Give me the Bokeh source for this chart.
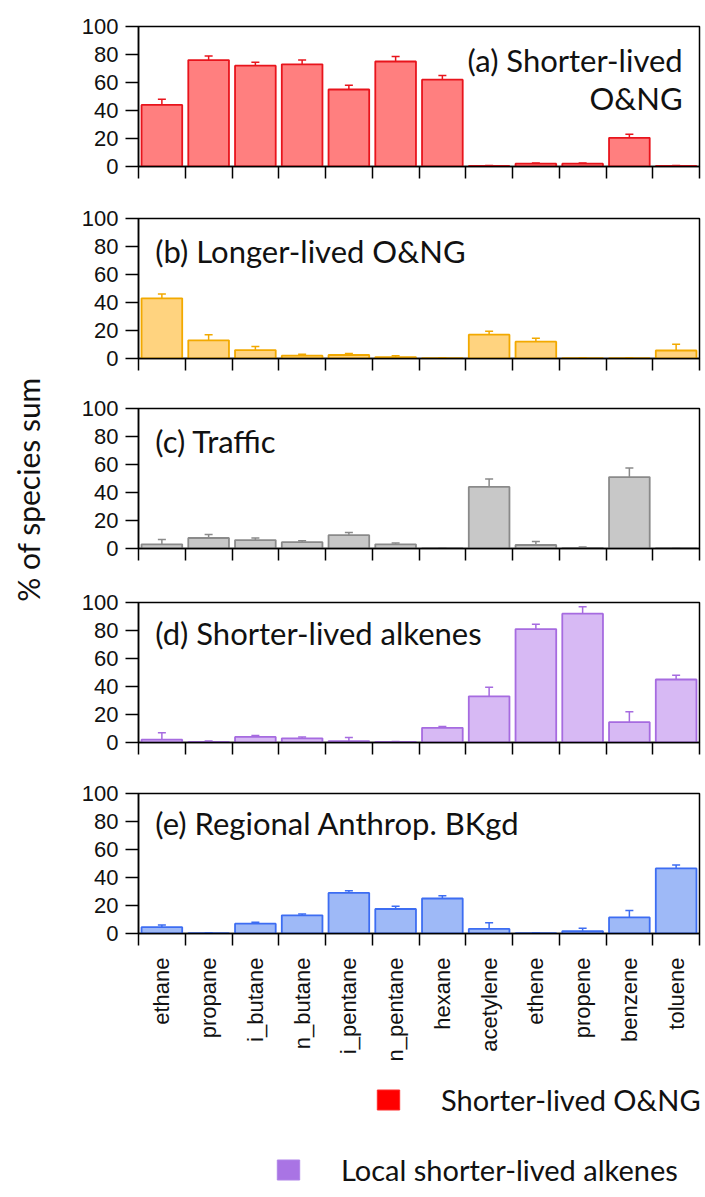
import numpy as np
from math import pi
from bokeh.plotting import figure
from bokeh.models import (Range1d, FixedTicker, ColumnDataSource, Whisker, TeeHead,
                          Label, Legend, LegendItem)
from bokeh.layouts import column, row
from bokeh.embed import file_html
from bokeh.resources import INLINE

# ---------------- data ----------------
species = ["ethane", "propane", "i_butane", "n_butane", "i_pentane", "n_pentane",
           "hexane", "acetylene", "ethene", "propene", "benzene", "toluene"]

a_vals = [44, 76, 72, 73, 55, 75, 62, 0.4, 2, 2, 20.5, 0.4]
a_err = [4, 3, 2.5, 3, 3, 3.5, 3, 0.3, 0.5, 0.5, 2.5, 0.3]

b_vals = [43, 13, 6, 2, 2.5, 1, 0.3, 17, 12, 0.3, 0.3, 5.7]
b_err = [3, 4, 2.5, 1, 1, 1, 0.3, 2.5, 2.5, 0.3, 0.3, 4.5]

c_vals = [3, 7.5, 6, 4.5, 9.5, 3, 0.3, 44, 2.5, 0.5, 51, 0.3]
c_err = [3.5, 2.5, 1.5, 1, 2, 1, 0.3, 5.7, 2.5, 0.5, 6.5, 0.3]

d_vals = [2, 0.5, 4, 3, 1, 0.5, 10.5, 33, 81, 92, 14.5, 45]
d_err = [5, 0.5, 1, 1, 2.5, 0.3, 1, 6.5, 3.5, 5, 7.5, 3]

e_vals = [4.5, 0.3, 7, 13, 29, 17.5, 25, 3.3, 0.3, 1.7, 11.5, 46.5]
e_err = [1.5, 0.3, 1, 1, 1.5, 2, 2, 4.3, 0.3, 2, 5, 2.5]

y_ticks = [0, 20, 40, 60, 80, 100]

y_label = "% of species sum"
legend_labels = ["Shorter-lived O&NG", "Local shorter-lived alkenes"]

# ---------------- style ----------------
TICK_FONT = "Liberation Sans"
TEXT_FONT = "Lato"
n = len(species)
centers = np.arange(n) + 0.5
bounds = list(range(n + 1))


def make_panel(vals, errs, fill, line, titles, top=18, bot=34, bottom=False):
    vals = np.asarray(vals, dtype=float)
    errs = np.asarray(errs, dtype=float)
    p = figure(frame_width=561, frame_height=140,
               x_range=Range1d(0, n), y_range=Range1d(0, 100),
               output_backend="svg", toolbar_location=None,
               min_border_left=88, min_border_right=6, min_border_top=top,
               min_border_bottom=bot)
    p.grid.visible = False
    p.outline_line_color = "black"
    p.outline_line_width = 1.5
    p.background_fill_color = "white"

    src = ColumnDataSource(dict(x=centers, top=vals, upper=vals + errs,
                                lower=np.clip(vals - errs, 0, None),
                                species=species))
    p.vbar(x="x", top="top", bottom=0, width=0.87, source=src,
           fill_color=fill, line_color=line, line_width=1.8)
    w = Whisker(base="x", upper="upper", lower="lower", source=src,
                line_color=line, line_width=1.5,
                upper_head=TeeHead(size=8, line_color=line, line_width=1.5),
                lower_head=TeeHead(size=8, line_color=line, line_width=1.5))
    p.add_layout(w)

    ya = p.yaxis[0]
    ya.ticker = FixedTicker(ticks=y_ticks)
    ya.major_tick_out = 13
    ya.major_tick_in = 0
    ya.minor_tick_out = 0
    ya.minor_tick_in = 0
    ya.major_label_standoff = 7
    ya.axis_line_width = 1.5
    ya.major_tick_line_width = 1.5
    ya.major_label_text_font = TICK_FONT
    ya.major_label_text_font_size = "22px"
    ya.major_label_text_color = "#111111"

    xa = p.xaxis[0]
    xa.ticker = FixedTicker(ticks=(list(centers) if bottom else []), minor_ticks=bounds)
    xa.major_tick_out = 0
    xa.major_tick_in = 0
    xa.minor_tick_out = 12
    xa.minor_tick_in = 0
    xa.minor_tick_line_width = 1.5
    xa.minor_tick_line_color = "black"
    xa.axis_line_width = 1.5
    if bottom:
        xa.major_label_overrides = {float(c): s for c, s in zip(centers, species)}
        xa.major_label_orientation = pi / 2
        xa.major_label_standoff = 12
        xa.major_label_text_font = TICK_FONT
        xa.major_label_text_font_size = "22px"
        xa.major_label_text_color = "#111111"

    for t in titles:
        p.add_layout(Label(x=t[0], y=t[1], text=t[2], text_align=t[3],
                           text_baseline="middle", text_font=TEXT_FONT,
                           text_font_size="31px", text_color="#111111"))
    return p


pa = make_panel(a_vals, a_err, "#FF7F7F", "#E8141C",
                [(11.64, 76, "(a) Shorter-lived", "right"),
                 (11.64, 49, "O&NG", "right")], top=26, bot=34)
pb = make_panel(b_vals, b_err, "#FFD37F", "#F2A900",
                [(0.36, 77, "(b) Longer-lived O&NG", "left")], top=18, bot=32)
pc = make_panel(c_vals, c_err, "#C8C8C8", "#8A8A8A",
                [(0.36, 77, "(c) Traffic", "left")], top=18, bot=36)
pd = make_panel(d_vals, d_err, "#D7B9F4", "#A66BE0",
                [(0.36, 78, "(d) Shorter-lived alkenes", "left")], top=18, bot=33)
pe = make_panel(e_vals, e_err, "#9EB9F7", "#3D6DF2",
                [(0.36, 79, "(e) Regional Anthrop. BKgd", "left")], top=18, bot=126,
                bottom=True)

# ---------------- shared y label strip ----------------
panels_h = 200 + 190 + 194 + 191 + 284
pyl = figure(width=50, height=panels_h, x_range=Range1d(0, 50),
             y_range=Range1d(0, panels_h), x_axis_type=None, y_axis_type=None,
             output_backend="svg", toolbar_location=None, min_border=0)
pyl.grid.visible = False
pyl.outline_line_color = None
pyl.add_layout(Label(x=27, y=panels_h - 489, text=y_label, angle=pi / 2,
                     text_align="center", text_baseline="middle",
                     text_font=TEXT_FONT, text_font_size="30px",
                     text_color="#111111"))

# ---------------- legend strip ----------------
LH = 1197 - panels_h
pl = figure(width=705, height=LH, x_range=Range1d(0, 1), y_range=Range1d(0, 1),
            x_axis_type=None, y_axis_type=None,
            output_backend="svg", toolbar_location=None, min_border=0)
pl.grid.visible = False
pl.outline_line_color = None
r1 = pl.vbar(x=centers, top=a_vals, width=0.5, fill_color="#FF0000",
             line_color="#FF2A2A", visible=False)
r2 = pl.vbar(x=centers, top=d_vals, width=0.5, fill_color="#A974E4",
             line_color="#B084E8", visible=False)

for r, lab, loc in [(r1, legend_labels[0], (374, 85)), (r2, legend_labels[1], (274, 15))]:
    lg = Legend(items=[LegendItem(label=lab, renderers=[r])], location=loc,
                glyph_width=28, glyph_height=25, label_standoff=39,
                label_text_font=TEXT_FONT, label_text_font_size="29px",
                label_text_color="#111111",
                padding=0, margin=0, border_line_color=None,
                background_fill_alpha=0)
    pl.add_layout(lg)

layout = column(row(pyl, column(pa, pb, pc, pd, pe)), pl)
open("out.html", "w").write(file_html(layout, INLINE))
